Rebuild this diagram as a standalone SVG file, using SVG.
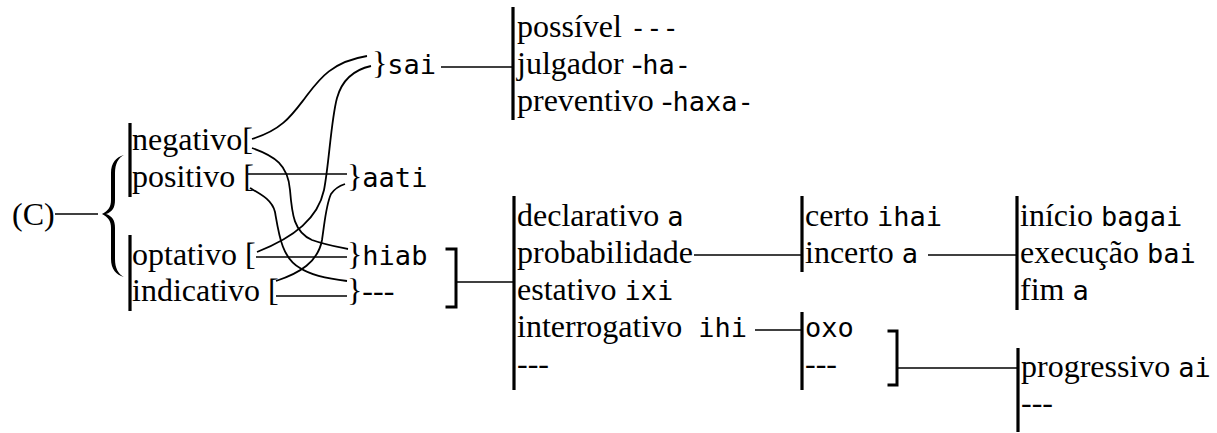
<svg xmlns="http://www.w3.org/2000/svg" width="1217" height="433" viewBox="0 0 1217 433">
  <style>
    .t { font-family: "Liberation Serif", "Times New Roman", serif; font-size: 32px; fill: #000; }
    .m { font-family: "DejaVu Sans Mono", "Liberation Mono", monospace; font-size: 27px; }
    .bar { stroke: #000; stroke-width: 3.2; fill: none; }
    .brk { stroke: #000; stroke-width: 3; fill: none; stroke-linecap: square; }
    .ln { stroke: #000; stroke-width: 1.6; fill: none; }
    .cv { stroke: #000; stroke-width: 1.8; fill: none; }
  </style>

  <!-- root label and its brace -->
  <g id="root">
    <text class="t" x="12" y="225">(C)</text>
    <path d="M124,155 C116,157 111,163 111,173 L111,200 C111,207 108,211 102,214 C108,217 111,221 111,228 L111,259 C111,269 116,275 124,277 C118,274 115,268 115,259 L115,228 C115,220 112,216 106,214 C112,212 115,208 115,200 L115,173 C115,164 118,158 124,155 Z" fill="#000"/>
  </g>

  <!-- polarity group -->
  <g id="polarity">
    <line class="bar" x1="130" y1="123" x2="130" y2="197"/>
    <text class="t" x="132" y="150">negativo[</text>
    <text class="t" x="132" y="187">positivo [</text>
  </g>

  <!-- mood group -->
  <g id="mood">
    <line class="bar" x1="130" y1="235" x2="130" y2="311"/>
    <text class="t" x="132" y="265">optativo [</text>
    <text class="t" x="132" y="301">indicativo [</text>
  </g>

  <!-- suffix markers -->
  <g id="sai">
    <text class="t" x="372" y="74">}<tspan class="m">sai</tspan></text>
  </g>
  <g id="aati">
    <text class="t" x="347" y="187">}<tspan class="m">aati</tspan></text>
  </g>
  <g id="hiab">
    <text class="t" x="347" y="265">}<tspan class="m">hiab</tspan></text>
  </g>
  <g id="none">
    <text class="t" x="347" y="301">}---</text>
  </g>

  <!-- modal list -->
  <g id="modal">
    <line class="bar" x1="513" y1="7" x2="513" y2="120"/>
    <text class="t" x="517" y="37">possível <tspan class="m">---</tspan></text>
    <text class="t" x="517" y="74">julgador -<tspan class="m">ha-</tspan></text>
    <text class="t" x="517" y="111">preventivo -<tspan class="m">haxa-</tspan></text>
  </g>

  <!-- closing bracket of hiab and the empty row -->
  <g id="bracket1">
    <path class="brk" d="M447,249 L456,249 L456,307 L447,307"/>
  </g>

  <!-- sentence type list -->
  <g id="sentence">
    <line class="bar" x1="514" y1="196" x2="514" y2="390"/>
    <text class="t" x="517" y="226">declarativo <tspan class="m">a</tspan></text>
    <text class="t" x="517" y="263">probabilidade</text>
    <text class="t" x="517" y="300">estativo <tspan class="m">ixi</tspan></text>
    <text class="t" x="517" y="337" xml:space="preserve">interrogativo  <tspan class="m">ihi</tspan></text>
    <text class="t" x="517" y="374">---</text>
  </g>

  <!-- certainty list -->
  <g id="certainty">
    <line class="bar" x1="802" y1="196" x2="802" y2="272"/>
    <text class="t" x="805" y="226">certo <tspan class="m">ihai</tspan></text>
    <text class="t" x="805" y="263">incerto <tspan class="m">a</tspan></text>
  </g>

  <!-- aspect phases -->
  <g id="phase">
    <line class="bar" x1="1017" y1="196" x2="1017" y2="310"/>
    <text class="t" x="1020" y="226">início <tspan class="m">bagai</tspan></text>
    <text class="t" x="1020" y="263">execução <tspan class="m">bai</tspan></text>
    <text class="t" x="1020" y="300">fim <tspan class="m">a</tspan></text>
  </g>

  <!-- question particle -->
  <g id="question">
    <line class="bar" x1="802" y1="312" x2="802" y2="390"/>
    <text class="t" x="805" y="337"><tspan class="m">oxo</tspan></text>
    <text class="t" x="805" y="374">---</text>
  </g>

  <!-- closing bracket of the question rows -->
  <g id="bracket2">
    <path class="brk" d="M889,331 L897,331 L897,385 L889,385"/>
  </g>

  <!-- progressive -->
  <g id="progressive">
    <line class="bar" x1="1018" y1="348" x2="1018" y2="432"/>
    <text class="t" x="1021" y="377">progressivo <tspan class="m">ai</tspan></text>
    <text class="t" x="1021" y="413">---</text>
  </g>

  <!-- connectors -->
  <g id="connectors">
    <line class="ln" x1="55" y1="214" x2="98" y2="214"/>
    <line class="ln" x1="441" y1="67" x2="513" y2="67"/>
    <line class="ln" x1="248" y1="174" x2="347" y2="174"/>
    <line class="ln" x1="256" y1="257" x2="347" y2="257"/>
    <line class="ln" x1="276" y1="296" x2="347" y2="296"/>
    <line class="ln" x1="457" y1="282" x2="514" y2="282"/>
    <line class="ln" x1="694" y1="255" x2="802" y2="255"/>
    <line class="ln" x1="928" y1="255" x2="1017" y2="255"/>
    <line class="ln" x1="755" y1="330" x2="802" y2="330"/>
    <line class="ln" x1="898" y1="368" x2="1018" y2="368"/>
    <!-- crossing curves between the bracket columns -->
    <path class="cv" d="M252,139 C282,130 292,115 305,98 C318,81 330,62 367,56"/>
    <path class="cv" d="M257,252 C295,237 318,218 324,190 C329,165 331,120 337,98 C342,80 353,70 371,66"/>
    <path class="cv" d="M252,148 C275,156 288,165 290,190 C292,215 294,232 312,240 C326,245 338,247 348,249"/>
    <path class="cv" d="M250,188 C262,195 272,200 275,212 C279,235 282,258 300,268 C312,276 330,279 347,281"/>
    <path class="cv" d="M276,281 C300,273 318,262 322,240 C325,220 326,205 331,194 C335,188 339,186 345,184"/>
  </g>
</svg>
